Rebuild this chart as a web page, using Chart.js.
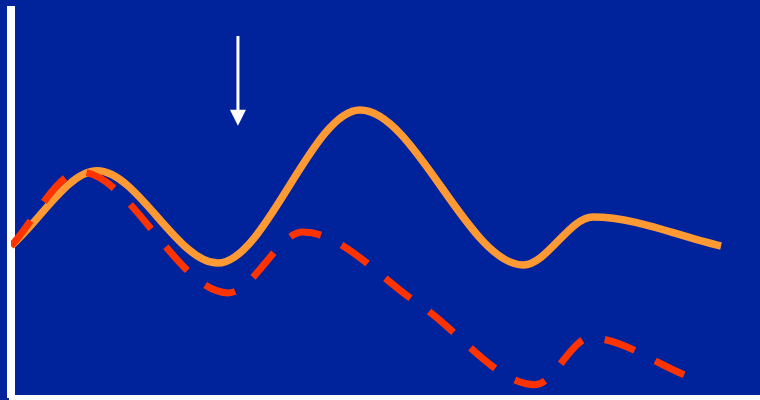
<!DOCTYPE html>
<html>
<head>
<meta charset="utf-8">
<title>Two curves</title>
<script src="https://cdn.jsdelivr.net/npm/chart.js@4/dist/chart.umd.min.js"></script>
<style>
  html, body { margin: 0; padding: 0; background: #00239C; }
  #wrap { width: 760px; height: 400px; }
</style>
</head>
<body>
<div id="wrap"><canvas id="chart" width="760" height="400"></canvas></div>
<script>
// Solid curve (orange)
const solidX = [0, 11.5, 27.6, 46.6, 68.4, 77.7, 94.8];
const solidY = [39.1, 58.5, 34.7, 74.2, 34.2, 46.6, 39.1];

// Dashed curve (red)
const dashedX = [0, 9.2, 29.0, 39.0, 54.6, 70.0, 77.3, 90.0];
const dashedY = [39.1, 58.2, 27.0, 42.7, 23.9, 3.3, 15.4, 5.8];

// Downward marker arrow: x position, tail and tip heights
const arrowX = 30.3;
const arrowTop = 93.3;
const arrowTip = 70.1;

const BG = '#00239C';

const toPoints = (xs, ys) => xs.map((x, i) => ({ x, y: ys[i] }));

const background = {
  id: 'background',
  beforeDraw(chart) {
    const ctx = chart.ctx;
    ctx.save();
    ctx.fillStyle = BG;
    ctx.fillRect(0, 0, chart.width, chart.height);
    ctx.restore();
  }
};

const arrow = {
  id: 'arrow',
  afterDatasetsDraw(chart) {
    const { ctx, scales: { x, y } } = chart;
    const px = x.getPixelForValue(arrowX);
    const top = y.getPixelForValue(arrowTop);
    const tip = y.getPixelForValue(arrowTip);
    const headLen = 16, headHalf = 8;
    ctx.save();
    ctx.strokeStyle = '#FFFFFF';
    ctx.fillStyle = '#FFFFFF';
    ctx.lineWidth = 3;
    ctx.beginPath();
    ctx.moveTo(px, top);
    ctx.lineTo(px, tip - headLen + 1);
    ctx.stroke();
    ctx.beginPath();
    ctx.moveTo(px - headHalf, tip - headLen);
    ctx.lineTo(px + headHalf, tip - headLen);
    ctx.lineTo(px, tip);
    ctx.closePath();
    ctx.fill();
    ctx.restore();
  }
};

new Chart(document.getElementById('chart'), {
  type: 'line',
  data: {
    datasets: [
      {
        data: toPoints(dashedX, dashedY),
        borderColor: '#FF3300',
        borderWidth: 7,
        borderDash: [32, 23],
        cubicInterpolationMode: 'monotone',
        pointRadius: 0,
        fill: false
      },
      {
        data: toPoints(solidX, solidY),
        borderColor: '#FF9933',
        borderWidth: 7.5,
        cubicInterpolationMode: 'monotone',
        pointRadius: 0,
        fill: false
      }
    ]
  },
  options: {
    responsive: false,
    animation: false,
    events: [],
    layout: { padding: { left: 11, right: 0, top: 10, bottom: 2.5 } },
    plugins: { legend: { display: false }, tooltip: { enabled: false } },
    scales: {
      x: {
        type: 'linear',
        min: 0,
        max: 100,
        ticks: { display: false },
        grid: { display: false, drawTicks: false },
        border: { display: true, color: '#FFFFFF', width: 5 }
      },
      y: {
        type: 'linear',
        min: 0,
        max: 100,
        ticks: { display: false },
        grid: { display: false, drawTicks: false },
        border: { display: true, color: '#FFFFFF', width: 8 }
      }
    }
  },
  plugins: [background, arrow]
});
</script>
</body>
</html>
